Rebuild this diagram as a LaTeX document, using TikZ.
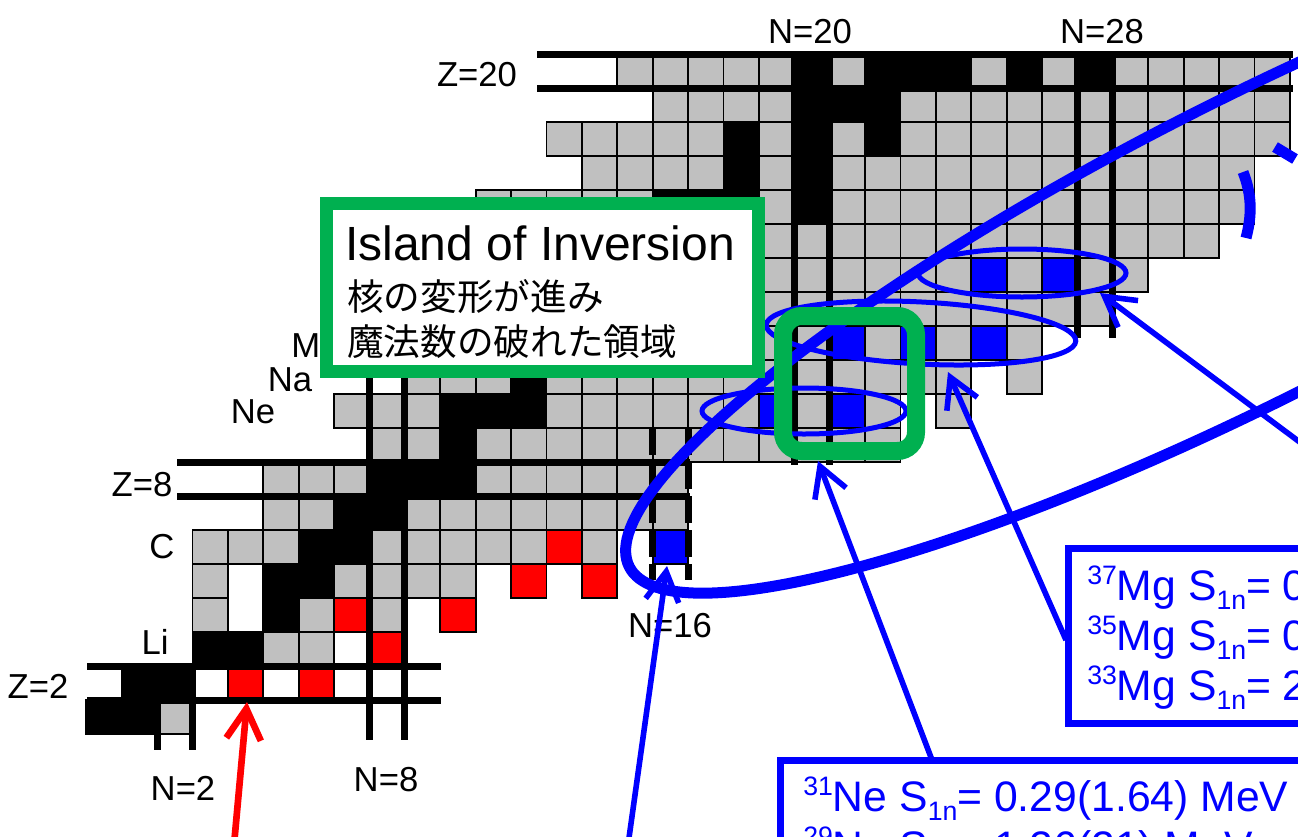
\documentclass[tikz,border=0pt]{standalone}
\usepackage{fontspec}
\setmainfont{Liberation Sans}
\newfontfamily\cjk{Noto Sans CJK JP}
\usetikzlibrary{arrows.meta}
\definecolor{cgray}{RGB}{192,192,192}
\definecolor{cgreen}{RGB}{0,176,80}
\newcommand\sups[1]{\raisebox{11.5pt}{\fontsize{20}{20}\selectfont #1}}
\newcommand\subs[1]{\raisebox{-7pt}{\fontsize{20}{20}\selectfont #1}}
\newcommand\crow[3]{\foreach \n in {#2}{\path[#3] ({86.2+35.4*\n},{734-34*#1}) rectangle ++(35.4,34);}}
\begin{document}
\begin{tikzpicture}[x=0.75pt,y=-0.75pt,
 gc/.style={fill=cgray,draw=black,line width=1.35pt},
 bc/.style={fill=black,draw=black,line width=1.35pt},
 rc/.style={fill=red,draw=black,line width=1.35pt},
 uc/.style={fill=blue,draw=black,line width=1.35pt},
 magic/.style={line width=5.25pt,draw=black},
 lbl/.style={font=\fontsize{26}{30}\selectfont,inner sep=0pt},
 thinell/.style={draw=blue,line width=3.75pt},
 barrow/.style={draw=blue,line width=4.2pt,-{Straight Barb[length=22pt,width=25pt]}},
 btxt/.style={font=\fontsize{32}{36}\selectfont,text=blue,inner sep=0pt,anchor=base west},
]
\useasboundingbox (0,0) rectangle (1298,836);
\clip (0,0) rectangle (1298,836);
% ---- cells ----
\crow{1}{0,1}{bc}\crow{1}{2}{gc}
\crow{2}{1,2}{bc}\crow{2}{4,6}{rc}
\crow{3}{3,4}{bc}\crow{3}{5,6}{gc}\crow{3}{8}{rc}
\crow{4}{3,6,8}{gc}\crow{4}{5}{bc}\crow{4}{7,10}{rc}
\crow{5}{3,7,8,9,10}{gc}\crow{5}{5,6}{bc}\crow{5}{12,14}{rc}
\crow{6}{3,4,5,8,9,10,11,12,14}{gc}\crow{6}{6,7}{bc}\crow{6}{13}{rc}\crow{6}{16}{uc}
\crow{7}{5,6,9,10,...,16}{gc}\crow{7}{7,8}{bc}
\crow{8}{5,6,7,11,12,...,16}{gc}\crow{8}{8,9,10}{bc}
\crow{9}{8,9,11,12,...,22}{gc}\crow{9}{10}{bc}
\crow{10}{7,8,9,13,14,...,18,20,22,24}{gc}\crow{10}{10,11,12}{bc}\crow{10}{19,21}{uc}
\crow{11}{9,10,11,13,14,...,24,26}{gc}\crow{11}{12}{bc}
\crow{12}{8,9,10,11,15,16,...,20,22,24,26}{gc}\crow{12}{12,13,14}{bc}\crow{12}{21,23,25}{uc}
\crow{13}{9,10,...,13,15,16,...,28}{gc}\crow{13}{14}{bc}
\crow{14}{8,9,...,13,17,18,...,24,26,28,29}{gc}\crow{14}{14,15,16}{bc}\crow{14}{25,27}{uc}
\crow{15}{10,11,...,15,17,18,...,31}{gc}\crow{15}{16}{bc}
\crow{16}{11,12,...,15,19,21,22,...,32}{gc}\crow{16}{16,17,18,20}{bc}
\crow{17}{14,15,16,17,19,21,22,...,32}{gc}\crow{17}{18,20}{bc}
\crow{18}{13,14,...,17,19,21,23,24,...,33}{gc}\crow{18}{18,20,22}{bc}
\crow{19}{16,17,18,19,23,24,...,33}{gc}\crow{19}{20,21,22}{bc}
\crow{20}{15,16,...,19,21,25,27,29,30,...,33}{gc}\crow{20}{20,22,23,24,26,28}{bc}
% ---- magic number lines ----
\draw[magic] (87,666) -- (441,666);
\draw[magic] (87,700) -- (441,700);
\draw[magic] (157,666) -- (157,750);
\draw[magic] (192.4,666) -- (192.4,750);
\draw[magic] (369.4,340) -- (369.4,740);
\draw[magic] (404.8,340) -- (404.8,740);
\draw[magic] (177,462) -- (690,462);
\draw[magic] (177,496) -- (690,496);
\draw[magic,dash pattern=on 20.25pt off 5.25pt] (652.6,428) -- (652.6,580);
\draw[magic,dash pattern=on 20.25pt off 5.25pt] (688,428) -- (688,580);
\draw[magic] (794.2,51) -- (794.2,465);
\draw[magic] (829.6,51) -- (829.6,465);
\draw[magic] (1077.4,51) -- (1077.4,338);
\draw[magic] (1112.8,51) -- (1112.8,338);
\draw[magic] (537,54) -- (1293,54);
\draw[magic] (537,88) -- (1293,88);
% ---- labels ----
\node[lbl] (n20) at (810,32) {N=20};
\node[lbl] (n28) at (1102,32) {N=28};
\node[lbl] (z20) at (477,75) {Z=20};
\node[lbl] (z8) at (142,485) {Z=8};
\node[lbl] (z2) at (38,686) {Z=2};
\node[lbl] (n2) at (183,788) {N=2};
\node[lbl] (n8) at (386,780) {N=8};
\node[lbl] (n16) at (670,626) {N=16};
\node[lbl] (lc) at (162,547) {C};
\node[lbl] (lli) at (155,642) {Li};
\node[lbl] (lne) at (253,412) {Ne};
\node[lbl] (lna) at (290,380) {Na};
\node[lbl,anchor=base west] (lmg) at (291,357) {Mg};
% ---- blue ellipses ----
\draw[blue,line width=8.25pt,rotate around={27:(1253,249)}] (1253,249) ellipse [x radius=700, y radius=148];
\draw[blue,line width=8.25pt] (1275,147) -- (1295,159);
\draw[blue,line width=8.25pt] (1243,172) .. controls (1252,195) and (1252,215) .. (1246,238);
\draw[thinell] (804,411) ellipse [x radius=102, y radius=23];
\draw[thinell,rotate around={-3:(921,333)}] (921,333) ellipse [x radius=155, y radius=31];
\draw[thinell] (1022,273) ellipse [x radius=104, y radius=24];
% ---- green rounded square ----
\draw[cgreen,line width=13.5pt,rounded corners=14pt] (783,316) rectangle (916,451);
% ---- arrows ----
\coordinate (a1t) at (628,845);
\coordinate (a1h) at (667,566);
\coordinate (a2t) at (932,760);
\coordinate (a2h) at (818,461);
\coordinate (a3t) at (1066,640);
\coordinate (a3h) at (948,372);
\coordinate (a4t) at (1305,446);
\coordinate (a4h) at (1100,293);
\coordinate (rt) at (234,845);
\coordinate (rh) at (247,702);
\draw[barrow] (a1t) -- (a1h);
\draw[barrow] (a2t) -- (a2h);
\draw[barrow] (a3t) -- (a3h);
\draw[barrow] (a4t) -- (a4h);
\draw[barrow,draw=red,line width=5pt,-{Straight Barb[length=23pt,width=26pt]}] (rt) -- (rh);
% ---- green text box ----
\draw[cgreen,fill=white,line width=9.75pt] (326.5,203.5) rectangle (758.5,371.5);
\node[anchor=base west,inner sep=0pt,font=\fontsize{36}{40}\selectfont] (ioi) at (345,260) {Island of Inversion};
\node[anchor=base west,inner sep=0pt,font=\cjk\fontsize{27.5}{30}\selectfont] (jp1) at (347,310) {核の変形が進み};
\node[anchor=base west,inner sep=0pt,font=\cjk\fontsize{27.5}{30}\selectfont] (jp2) at (347,355) {魔法数の破れた領域};
% ---- blue text boxes ----
\draw[blue,fill=white,line width=5.25pt] (1068.5,548.5) rectangle (1340,723.5);
\node[btxt] (mg37) at (1087,600) {\sups{37}Mg S\subs{1n}= 0};
\node[btxt] (mg35) at (1087,650) {\sups{35}Mg S\subs{1n}= 0};
\node[btxt] (mg33) at (1087,700) {\sups{33}Mg S\subs{1n}= 2};
\draw[blue,fill=white,line width=5.25pt] (780.5,760.5) rectangle (1340,900);
\node[btxt] (ne31) at (803,811) {\sups{31}Ne S\subs{1n}= 0.29(1.64) MeV};
\node[btxt] (ne29) at (803,861) {\sups{29}Ne S\subs{1n}= 1.26(21) MeV};
\end{tikzpicture}
\end{document}
